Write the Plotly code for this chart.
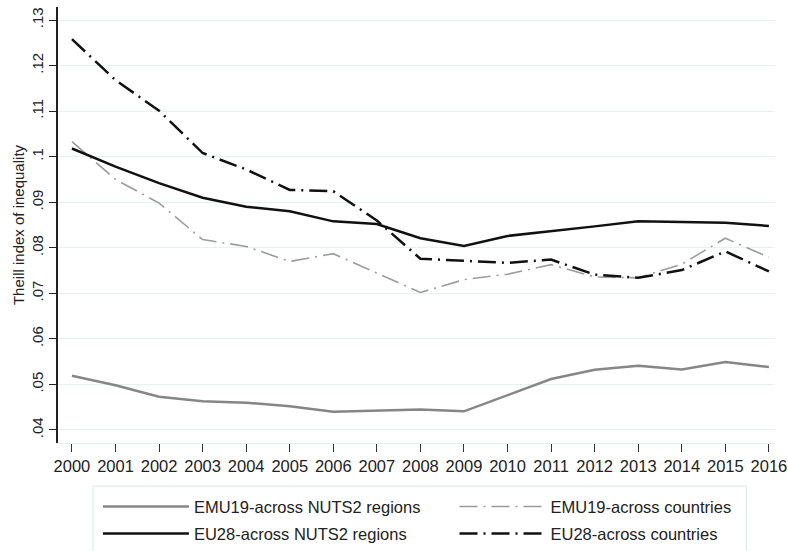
import plotly.graph_objects as go

years = list(range(2000, 2017))
emu19_nuts2 = [0.0519, 0.0498, 0.0473, 0.0463, 0.0460, 0.0452, 0.0440, 0.0442, 0.0445, 0.0441,
               0.0476, 0.0512, 0.0532, 0.0541, 0.0533, 0.0549, 0.0538]
emu19_countries = [0.1033, 0.0950, 0.0898, 0.0818, 0.0803, 0.0770, 0.0787, 0.0745, 0.0702, 0.0730,
                   0.0742, 0.0763, 0.0736, 0.0734, 0.0764, 0.0821, 0.0779]
eu28_nuts2 = [0.1018, 0.0978, 0.0942, 0.0910, 0.0890, 0.0880, 0.0858, 0.0852, 0.0821, 0.0804,
              0.0826, 0.0836, 0.0847, 0.0858, 0.0857, 0.0855, 0.0848]
eu28_countries = [0.1258, 0.1168, 0.1101, 0.1008, 0.0972, 0.0927, 0.0924, 0.0860, 0.0776, 0.0771,
                  0.0767, 0.0774, 0.0741, 0.0734, 0.0751, 0.0792, 0.0748]

y_tickvals = [0.04, 0.05, 0.06, 0.07, 0.08, 0.09, 0.10, 0.11, 0.12, 0.13]
y_ticktext = [".04", ".05", ".06", ".07", ".08", ".09", ".1", ".11", ".12", ".13"]
x_ticktext = [str(y) for y in years]

names = ["EMU19-across NUTS2 regions", "EMU19-across countries",
         "EU28-across NUTS2 regions", "EU28-across countries"]

FONT = "Liberation Sans, Arial, sans-serif"
DASHDOT = "18px,6px,2px,6px"
TXT = "#222222"

fig = go.Figure()
fig.add_trace(go.Scatter(x=years, y=emu19_nuts2, mode="lines", name=names[0], legend="legend",
                         line=dict(color="#868686", width=2.5)))
fig.add_trace(go.Scatter(x=years, y=emu19_countries, mode="lines", name=names[1], legend="legend2",
                         line=dict(color="#9c9c9c", width=1.6, dash=DASHDOT)))
fig.add_trace(go.Scatter(x=years, y=eu28_nuts2, mode="lines", name=names[2], legend="legend3",
                         line=dict(color="#111111", width=2.5)))
fig.add_trace(go.Scatter(x=years, y=eu28_countries, mode="lines", name=names[3], legend="legend4",
                         line=dict(color="#111111", width=2.5, dash=DASHDOT)))

def leg(x, y):
    return dict(orientation="v", x=x, xanchor="left", y=y, yanchor="top",
                bgcolor="rgba(0,0,0,0)", borderwidth=0, itemwidth=86,
                font=dict(family=FONT, size=16.5, color=TXT))

# light frame around the legend area
fig.add_shape(type="rect", xref="paper", yref="paper",
              x0=0.0488, x1=0.960, y0=-0.0986, y1=-0.30,
              line=dict(color="#dde6e9", width=1), fillcolor="rgba(0,0,0,0)", layer="below")

fig.update_layout(
    width=788, height=551,
    margin=dict(l=58, r=13, t=7, b=108, autoexpand=False),
    paper_bgcolor="white", plot_bgcolor="white",
    font=dict(family=FONT, size=16, color=TXT),
    showlegend=True,
    legend=leg(0.0557, -0.106),
    legend2=leg(0.553, -0.106),
    legend3=leg(0.0557, -0.168),
    legend4=leg(0.553, -0.168),
    xaxis=dict(
        range=[1999.68, 2016.14], automargin=False,
        tickmode="array", tickvals=years, ticktext=x_ticktext,
        showgrid=False, zeroline=False,
        showline=True, linecolor="#e6eef0", linewidth=1,
        ticks="outside", ticklen=8, tickcolor="#333333", tickwidth=1,
        ticklabeloverflow="allow",
        tickfont=dict(family=FONT, size=16.5, color=TXT),
    ),
    yaxis=dict(
        range=[0.03714, 0.13286], automargin=False,
        tickmode="array", tickvals=y_tickvals, ticktext=y_ticktext,
        tickangle=-90,
        showgrid=True, gridcolor="#e8f0f2", gridwidth=1,
        zeroline=False,
        showline=True, linecolor="#222222", linewidth=1.5,
        ticks="outside", ticklen=7, tickcolor="#222222", tickwidth=1,
        tickfont=dict(family=FONT, size=15, color=TXT),
        title=dict(text="Theill index of inequality", standoff=1,
                   font=dict(family=FONT, size=15, color=TXT)),
    ),
)

fig.write_html("out.html",
               config={"displayModeBar": False},
               post_script="document.body.style.margin='0px';document.body.style.overflow='hidden';")
